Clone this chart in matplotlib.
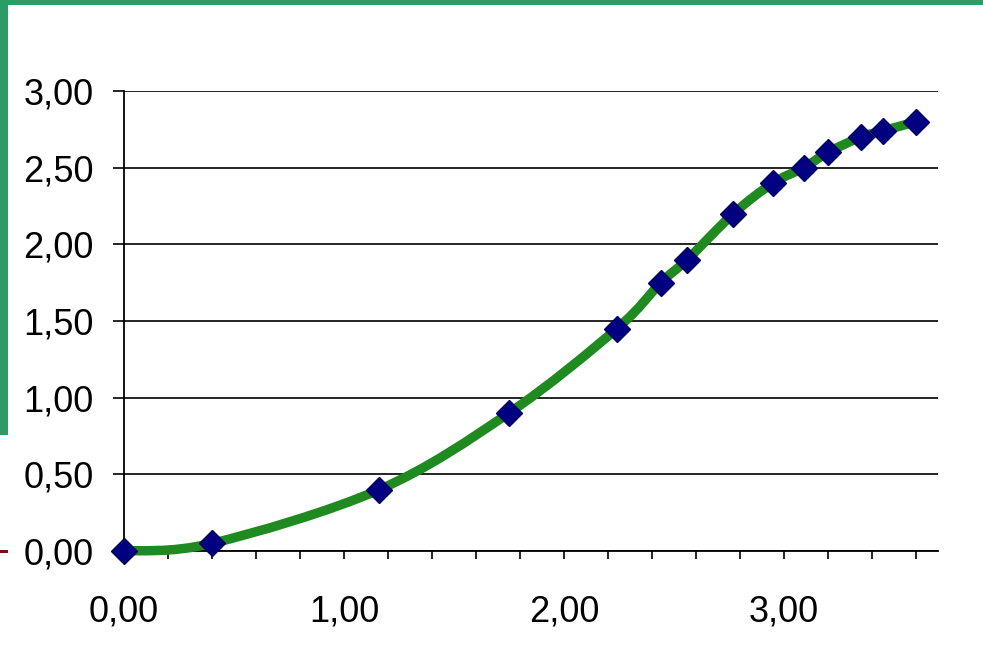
import matplotlib.pyplot as plt
from matplotlib.path import Path
from matplotlib.patches import PathPatch, Rectangle
from matplotlib.ticker import MultipleLocator, FuncFormatter

plt.rcParams['font.family'] = ['Liberation Sans', 'DejaVu Sans']

# valores
x_vals = [0.00, 0.40, 1.16, 1.75, 2.24, 2.44, 2.56, 2.77, 2.95, 3.09, 3.20, 3.35, 3.45, 3.60]
y_vals = [0.00, 0.05, 0.40, 0.90, 1.45, 1.75, 1.90, 2.20, 2.40, 2.50, 2.60, 2.70, 2.74, 2.80]


def smooth_path(xs, ys):
    # curva suavizada tipo Excel: bezier cubica entre puntos consecutivos
    pts = list(zip(xs, ys))
    n = len(pts)
    verts = [pts[0]]
    codes = [Path.MOVETO]
    for i in range(n - 1):
        p0 = pts[i - 1] if i > 0 else pts[i]
        p1 = pts[i]
        p2 = pts[i + 1]
        p3 = pts[i + 2] if i + 2 < n else pts[i + 1]
        c1 = (p1[0] + (p2[0] - p0[0]) / 6, p1[1] + (p2[1] - p0[1]) / 6)
        c2 = (p2[0] - (p3[0] - p1[0]) / 6, p2[1] - (p3[1] - p1[1]) / 6)
        verts += [c1, c2, p2]
        codes += [Path.CURVE4] * 3
    return Path(verts, codes)


fig = plt.figure(figsize=(9.83, 6.45), dpi=100)
ax = fig.add_axes([0.1261, 0.1457, 0.8281, 0.7132])

ax.add_patch(PathPatch(smooth_path(x_vals, y_vals), facecolor='none',
                       edgecolor='#1f8a1f', linewidth=6.8, capstyle='round',
                       joinstyle='round', zorder=3, clip_on=False))
ax.plot(x_vals, y_vals, linestyle='none', marker='D', markersize=13,
        markerfacecolor='#000080', markeredgecolor='#000060', zorder=4,
        clip_on=False)

ax.set_xlim(0, 3.70)
ax.set_ylim(0, 3.0)

fmt = FuncFormatter(lambda v, p: f"{v:.2f}".replace('.', ','))
ax.xaxis.set_major_locator(MultipleLocator(1.0))
ax.xaxis.set_minor_locator(MultipleLocator(0.2))
ax.xaxis.set_major_formatter(fmt)
ax.yaxis.set_major_locator(MultipleLocator(0.5))
ax.yaxis.set_major_formatter(fmt)

ax.grid(axis='y', color='black', linewidth=1.2)
ax.set_axisbelow(True)
for s in ['top', 'right']:
    ax.spines[s].set_visible(False)
for s in ['left', 'bottom']:
    ax.spines[s].set_linewidth(1.3)

ax.tick_params(axis='y', which='major', length=8, width=1.2, pad=14, labelsize=26)
ax.tick_params(axis='x', which='both', length=6, width=1.2, direction='out')
ax.tick_params(axis='x', which='major', pad=25, labelsize=26)

# marco verde de la diapositiva
fig.patches.append(Rectangle((0, 1 - 5 / 645), 1, 5 / 645, transform=fig.transFigure,
                             facecolor='#2e9a64', edgecolor='none'))
fig.patches.append(Rectangle((0, 1 - 435 / 645), 8 / 983, 435 / 645, transform=fig.transFigure,
                             facecolor='#2e9a64', edgecolor='none'))
fig.patches.append(Rectangle((0, 1 - 553 / 645), 8 / 983, 3 / 645, transform=fig.transFigure,
                             facecolor='#7a1010', edgecolor='none'))

fig.savefig('out.png', dpi=100)
